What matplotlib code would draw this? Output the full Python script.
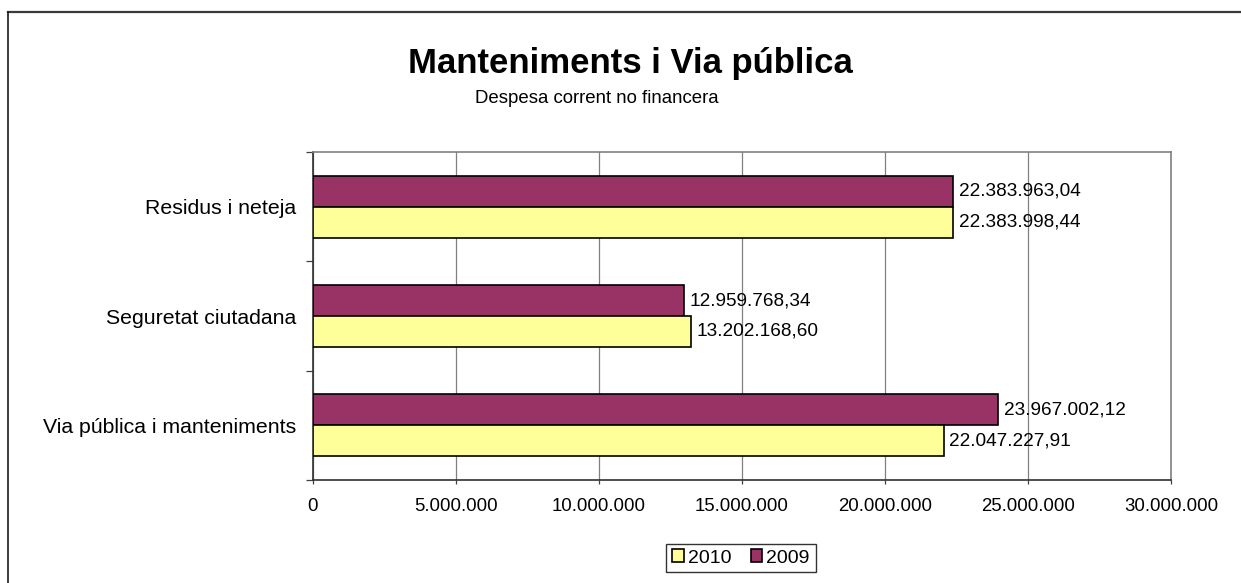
import matplotlib

matplotlib.use("Agg")
import matplotlib.pyplot as plt
from matplotlib.lines import Line2D
from matplotlib.patches import Patch
from matplotlib.ticker import FuncFormatter, FixedLocator
import numpy as np

plt.rcParams["font.family"] = ["Liberation Sans", "DejaVu Sans"]

CATEGORIES = ["Via pública i manteniments", "Seguretat ciutadana", "Residus i neteja"]
VALUES_2009 = [23967002.12, 12959768.34, 22383963.04]
VALUES_2010 = [22047227.91, 13202168.60, 22383998.44]
SERIES = ["2010", "2009"]
XTICKS = [0, 5000000, 10000000, 15000000, 20000000, 25000000, 30000000]

C2009 = "#993366"
C2010 = "#FFFF99"
GRID = "#808080"
FS = 13.4


def cat_num(v, dec=0):
    # catalan style: 1.234.567,89
    s = f"{v:,.{dec}f}"
    return s.replace(",", "X").replace(".", ",").replace("X", ".")


W, H = 1241, 583
fig = plt.figure(figsize=(W / 100, H / 100), dpi=100)
fig.patch.set_facecolor("white")

# chart-area frame (only top and left edge visible in the crop)
fig.add_artist(Line2D([8 / W, 1.0], [1 - 11.5 / H, 1 - 11.5 / H], transform=fig.transFigure,
                      color="#3a3a3a", linewidth=1.6))
fig.add_artist(Line2D([8 / W, 8 / W], [0, 1 - 11.5 / H], transform=fig.transFigure,
                      color="#1a1a1a", linewidth=1.2))

fig.text(630 / W, 1 - 73 / H, "Manteniments i Via pública", fontsize=25, weight="bold",
         ha="center", va="baseline")
fig.text(597 / W, 1 - 103 / H, "Despesa corrent no financera", fontsize=FS,
         ha="center", va="baseline")

ax = fig.add_axes([313 / W, 1 - 480 / H, 858 / W, 328 / H])
y = np.arange(len(CATEGORIES))
h = 0.283
b09 = ax.barh(y + h / 2, VALUES_2009, height=h, color=C2009, edgecolor="black", linewidth=1.2, zorder=3)
b10 = ax.barh(y - h / 2, VALUES_2010, height=h, color=C2010, edgecolor="black", linewidth=1.2, zorder=3)

for bars, vals in ((b09, VALUES_2009), (b10, VALUES_2010)):
    for r, v in zip(bars, vals):
        ax.annotate(cat_num(v, 2), (v, r.get_y() + r.get_height() / 2), xytext=(4, 0),
                    textcoords="offset points", va="center", ha="left", fontsize=13.7, zorder=4)

ax.set_xlim(0, 30000000)
ax.set_ylim(-0.5, len(CATEGORIES) - 0.5)
ax.xaxis.set_major_locator(FixedLocator(XTICKS))
ax.xaxis.set_major_formatter(FuncFormatter(lambda v, p: cat_num(v)))
ax.grid(axis="x", color=GRID, linewidth=0.9, zorder=0)

ax.set_yticks(y)
ax.set_yticklabels(CATEGORIES)
ax.set_yticks(np.arange(-0.5, len(CATEGORIES), 1.0), minor=True)
ax.tick_params(axis="y", which="major", length=0, pad=12, labelsize=15.3)
ax.tick_params(axis="y", which="minor", length=5, width=0.9, color="#404040", direction="out")
ax.tick_params(axis="x", which="major", length=3, width=0.9, color="#404040", pad=10, labelsize=FS)

for s in ("top", "right"):
    ax.spines[s].set_color(GRID)
    ax.spines[s].set_linewidth(1.2)
for s in ("left", "bottom"):
    ax.spines[s].set_color("#303030")
    ax.spines[s].set_linewidth(1.2)

handles = [Patch(facecolor=C2010, edgecolor="black", linewidth=1.2, label=SERIES[0]),
           Patch(facecolor=C2009, edgecolor="black", linewidth=1.2, label=SERIES[1])]
leg = fig.legend(handles=handles, loc="center", bbox_to_anchor=(741 / W, 1 - 558 / H), ncol=2,
                 fontsize=14, frameon=True, fancybox=False, handlelength=0.6, handleheight=0.6,
                 handletextpad=0.2, columnspacing=1.0, borderpad=0.3, borderaxespad=0)
leg.get_frame().set_edgecolor("black")
leg.get_frame().set_linewidth(1.0)

fig.savefig("out.png", dpi=100, facecolor="white")
